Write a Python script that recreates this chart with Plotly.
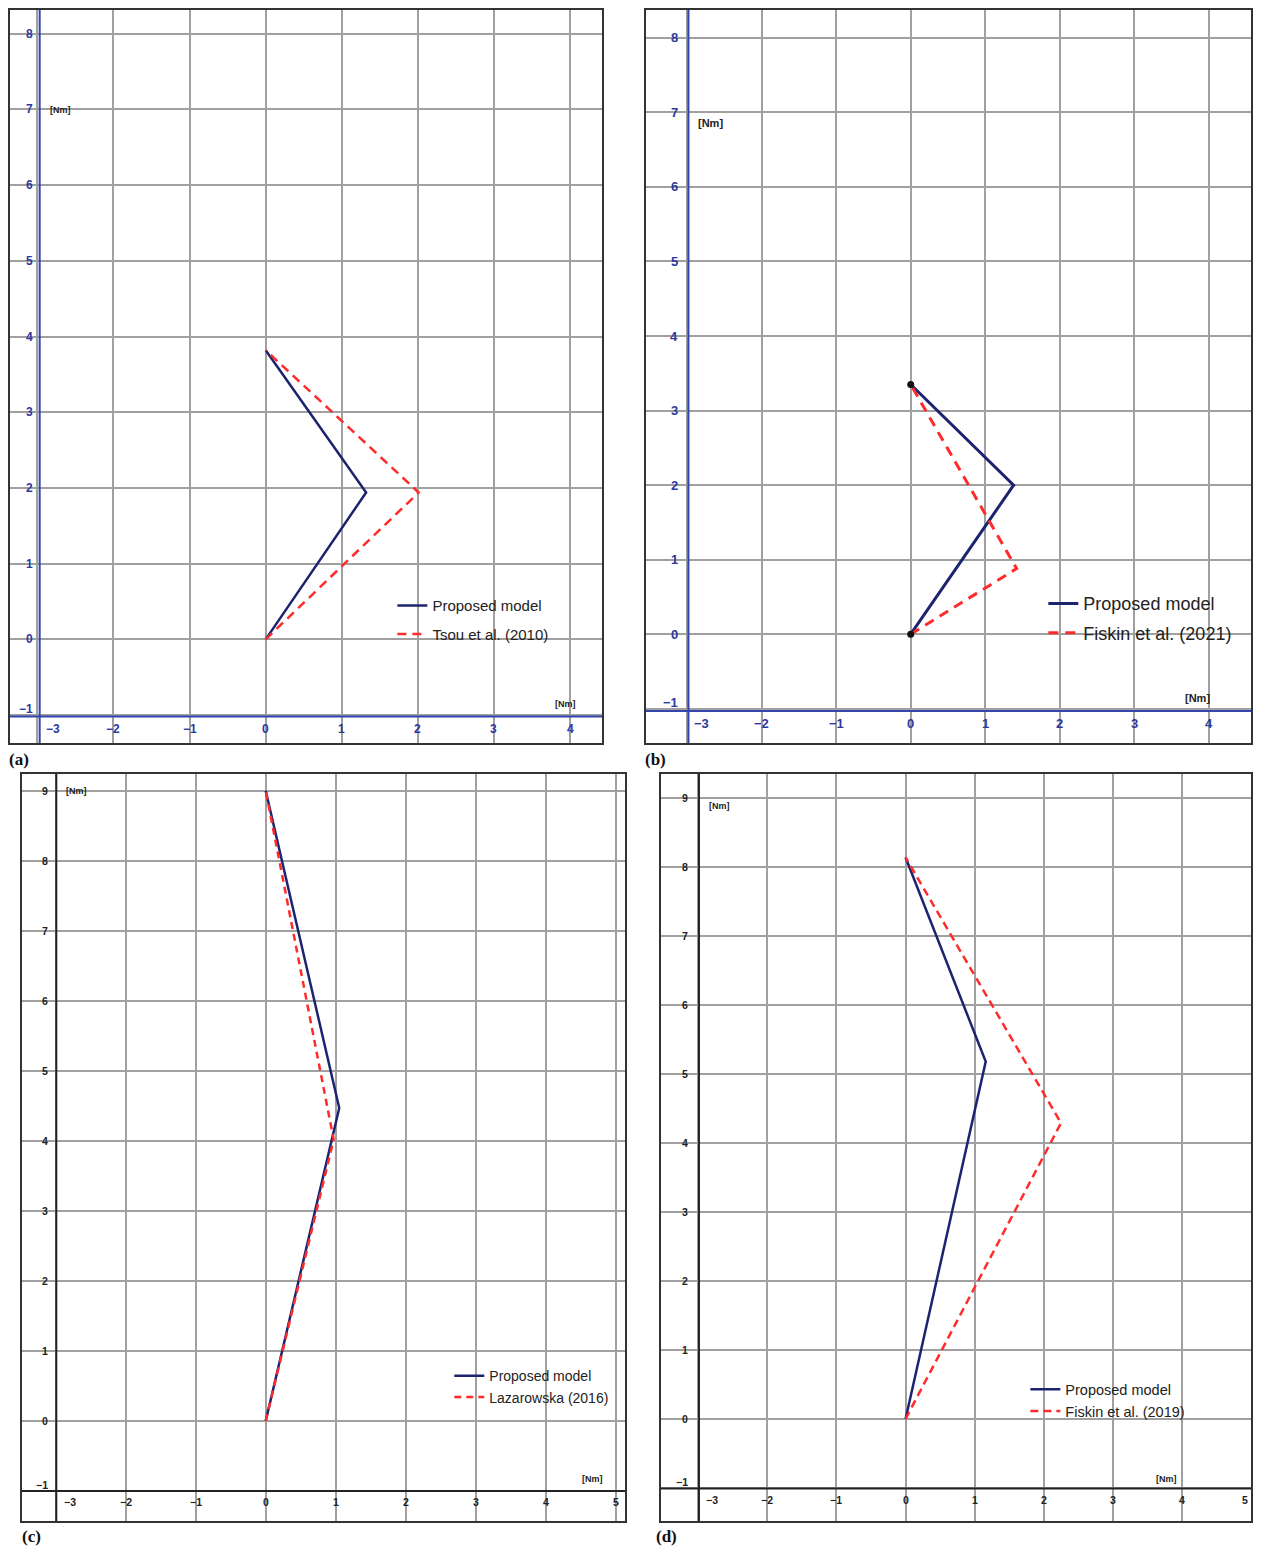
import plotly.graph_objects as go

# page body has an 8px margin; the figure is laid out so that the picture matches
OFF = 8
W, H = 1261 - 2 * OFF, 1549 - OFF

# ---------------- data ----------------
a_proposed_x = [0, 1.32, 0]
a_proposed_y = [0, 1.94, 3.82]
a_tsou_x = [0, 2.01, 0]
a_tsou_y = [0, 1.94, 3.82]

b_proposed_x = [0, 1.38, 0]
b_proposed_y = [0, 2.00, 3.35]
b_fiskin_x = [0, 1.42, 0]
b_fiskin_y = [0, 0.88, 3.35]

c_proposed_x = [0, 1.05, 0]
c_proposed_y = [0, 4.47, 9.00]
c_laz_x = [0, 0.97, 0]
c_laz_y = [0, 4.02, 9.00]

d_proposed_x = [0, 1.16, 0]
d_proposed_y = [0, 5.18, 8.14]
d_fiskin_x = [0, 2.25, 0]
d_fiskin_y = [0, 4.29, 8.14]

x_ticks_ab = [-3, -2, -1, 0, 1, 2, 3, 4]
y_ticks_ab = [-1, 0, 1, 2, 3, 4, 5, 6, 7, 8]
x_ticks_cd = [-3, -2, -1, 0, 1, 2, 3, 4, 5]
y_ticks_cd = [-1, 0, 1, 2, 3, 4, 5, 6, 7, 8, 9]

names_a = ["Proposed model", "Tsou et al. (2010)"]
names_b = ["Proposed model", "Fiskin et al. (2021)"]
names_c = ["Proposed model", "Lazarowska (2016)"]
names_d = ["Proposed model", "Fiskin et al. (2019)"]
panel_tags = ["(a)", "(b)", "(c)", "(d)"]
unit_label = "[Nm]"

NAVY = "#1c2470"
RED = "#ff2b2b"
GRID = "#a0a0a0"
BORDER = "#333333"
FONT = "Liberation Sans, Arial, sans-serif"


def px_x(v):
    return min(1.0, max(0.0, (v - OFF) / W))


def px_y(v):
    return min(1.0, max(0.0, 1 - (v - OFF) / H))


def lab(v):
    return ("\u2212" + str(-v)) if v < 0 else str(v)


def clamp_range(p0, p1, r, lo, hi, invert=False):
    """Box edge pixels p0<p1 mapped to range r; clamp pixels to [lo, hi] and rescale."""
    scale = (r[1] - r[0]) / (p1 - p0)
    q0, q1 = max(p0, lo), min(p1, hi)
    if not invert:
        return [r[0] + (q0 - p0) * scale, r[1] - (p1 - q1) * scale]
    return [r[0] + (p1 - q1) * scale, r[1] - (q0 - p0) * scale]


panels = [
    dict(key="", box=(10, 6, 603, 742), xr=[-3.36, 4.42], yr=[-1.37, 8.34],
         ax=-2.97, ay=-1.02, acol="#3446ad", tcol="#2b3a9e", tsize=12, yshift_lab=-5,
         xt=x_ticks_ab, yt=y_ticks_ab,
         s1=(a_proposed_x, a_proposed_y), s2=(a_tsou_x, a_tsou_y), names=names_a,
         lw=2.5, dash="9px,6px", leg=(393, 588), lsize=15, gap=6,
         nm_y=(6.99, 8), nm_x=(3.94, -0.86), nmsize=9, tag=(19, 758)),
    dict(key="2", box=(647, 6, 1258, 742), xr=[-3.55, 4.63], yr=[-1.46, 8.40],
         ax=-2.98, ay=-1.03, acol="#3446ad", tcol="#2b3a9e", tsize=13, yshift_lab=-8,
         xt=x_ticks_ab, yt=y_ticks_ab,
         s1=(b_proposed_x, b_proposed_y), s2=(b_fiskin_x, b_fiskin_y), names=names_b,
         lw=3, dash="10px,7px", leg=(1045, 584), lsize=18, gap=3,
         nm_y=(6.86, 8), nm_x=(3.84, -0.86), nmsize=11, tag=(657, 758)),
    dict(key="3", box=(22, 773, 626, 1521), xr=[-3.48, 5.13], yr=[-1.43, 9.24],
         ax=-2.99, ay=-1.0, acol="#222222", tcol="#222222", tsize=10.5, yshift_lab=-6,
         xt=x_ticks_cd, yt=y_ticks_cd,
         s1=(c_proposed_x, c_proposed_y), s2=(c_laz_x, c_laz_y), names=names_c,
         lw=2.5, dash="7px,5px", leg=(450, 1360), lsize=14, gap=0,
         nm_y=(9.0, 8), nm_x=(4.66, -0.83), nmsize=9, tag=(32, 1536)),
    dict(key="4", box=(662, 773, 1260, 1521), xr=[-3.54, 5.10], yr=[-1.48, 9.35],
         ax=-2.99, ay=-1.01, acol="#222222", tcol="#222222", tsize=10.5, yshift_lab=-9,
         xt=x_ticks_cd, yt=y_ticks_cd,
         s1=(d_proposed_x, d_proposed_y), s2=(d_fiskin_x, d_fiskin_y), names=names_d,
         lw=2.5, dash="8px,5px", leg=(1027, 1373), lsize=14.5, gap=0,
         nm_y=(8.88, 8), nm_x=(3.78, -0.87), nmsize=9, tag=(668, 1536)),
]

fig = go.Figure()
layout = dict(width=W, height=H, margin=dict(l=0, r=0, t=0, b=0),
              paper_bgcolor="white", plot_bgcolor="white",
              font=dict(family=FONT, color="#222"))
annotations = []
shapes = []

for i, p in enumerate(panels):
    k = p["key"]
    xa, ya = "x" + k, "y" + k
    x0, y0, x1, y1 = p["box"]
    xr = clamp_range(x0, x1, p["xr"], OFF, OFF + W)
    yr = clamp_range(y0, y1, p["yr"], OFF, OFF + H, invert=True)
    axis_common = dict(showgrid=True, gridcolor=GRID, gridwidth=1.5, dtick=1, tick0=0,
                       showticklabels=False, ticks="", zeroline=False,
                       showline=True, mirror=True, linecolor=BORDER, linewidth=1.5,
                       fixedrange=True)
    layout["xaxis" + k] = dict(axis_common, domain=[px_x(x0), px_x(x1)], range=xr,
                               anchor=ya)
    layout["yaxis" + k] = dict(axis_common, domain=[px_y(y1), px_y(y0)], range=yr,
                               anchor=xa)
    legname = "legend" + k
    sx, sy = p["s1"]
    fig.add_trace(go.Scatter(x=sx, y=sy, mode="lines",
                             line=dict(color=NAVY, width=p["lw"]),
                             name=p["names"][0], xaxis=xa, yaxis=ya, legend=legname,
                             legendgroup="g1" + k))
    sx2, sy2 = p["s2"]
    fig.add_trace(go.Scatter(x=sx2, y=sy2, mode="lines",
                             line=dict(color=RED, width=p["lw"], dash=p["dash"]),
                             name=p["names"][1], xaxis=xa, yaxis=ya, legend=legname,
                             legendgroup="g2" + k))
    if k == "2":
        fig.add_trace(go.Scatter(x=[sx[0], sx[-1]], y=[sy[0], sy[-1]], mode="markers",
                                 marker=dict(size=7, color="#111"), showlegend=False,
                                 xaxis=xa, yaxis=ya, hoverinfo="skip"))
    lx, ly = p["leg"]
    layout[legname] = dict(x=px_x(lx), y=px_y(ly), xanchor="left", yanchor="top",
                           bgcolor="rgba(0,0,0,0)", borderwidth=0,
                           font=dict(family=FONT, size=p["lsize"], color="#222"),
                           tracegroupgap=p["gap"], traceorder="grouped",
                           itemwidth=30)
    shapes.append(dict(type="line", xref=xa, yref=ya, x0=p["ax"], x1=p["ax"],
                       y0=yr[0], y1=yr[1], line=dict(color=p["acol"], width=2)))
    shapes.append(dict(type="line", xref=xa, yref=ya, x0=xr[0], x1=xr[1],
                       y0=p["ay"], y1=p["ay"], line=dict(color=p["acol"], width=2)))
    tf = dict(family=FONT, size=p["tsize"], color=p["tcol"])
    for v in p["xt"]:
        xpos = v + 0.2 if v == p["xt"][0] else v
        anchor = "center"
        if xpos > xr[1] - 0.05:
            xpos = xr[1] - 0.01
            anchor = "right"
        annotations.append(dict(x=xpos, y=p["ay"], xref=xa, yref=ya, text="<b>%s</b>" % lab(v),
                                showarrow=False, yanchor="top", xanchor=anchor, yshift=-3,
                                font=tf))
    for v in p["yt"]:
        annotations.append(dict(x=p["ax"], y=v, xref=xa, yref=ya, text="<b>%s</b>" % lab(v),
                                showarrow=False, xanchor="right", xshift=p["yshift_lab"],
                                yshift=6 if v == p["yt"][0] else 0, font=tf))
    nf = dict(family=FONT, size=p["nmsize"], color="#222")
    annotations.append(dict(x=p["ax"], y=p["nm_y"][0], xref=xa, yref=ya,
                            text="<b>%s</b>" % unit_label, showarrow=False, xanchor="left",
                            xshift=p["nm_y"][1], font=nf))
    annotations.append(dict(x=p["nm_x"][0], y=p["nm_x"][1], xref=xa, yref=ya,
                            text="<b>%s</b>" % unit_label, showarrow=False, font=nf))
    tx, ty = p["tag"]
    annotations.append(dict(x=px_x(tx), y=px_y(ty), xref="paper", yref="paper",
                            text="<b>%s</b>" % panel_tags[i], showarrow=False,
                            xanchor="center", yanchor="middle",
                            font=dict(family="Liberation Serif, Times New Roman, serif",
                                      size=17, color="#111")))

layout["annotations"] = annotations
layout["shapes"] = shapes
layout["showlegend"] = True
fig.update_layout(**layout)
fig.write_html("out.html")
